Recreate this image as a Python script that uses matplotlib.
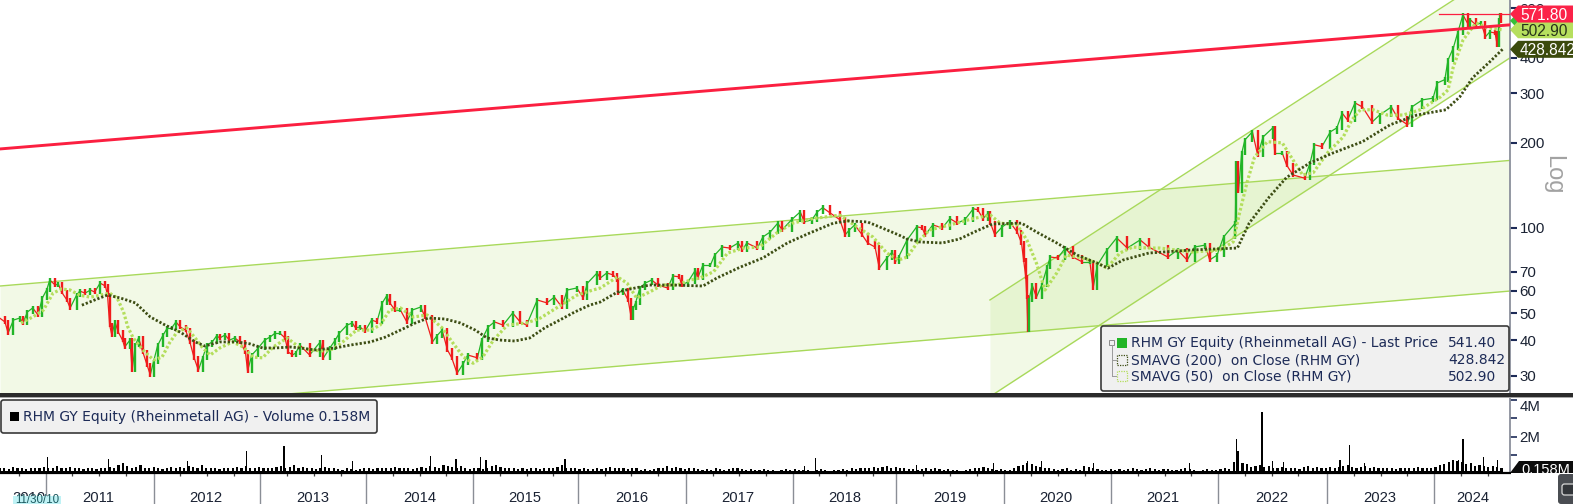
import numpy as np
import matplotlib
matplotlib.use("Agg")
import matplotlib.pyplot as plt
import matplotlib.ticker as mticker
from matplotlib.collections import LineCollection
from matplotlib.patches import Polygon, Rectangle, FancyBboxPatch
from matplotlib.transforms import IdentityTransform

# price knots
price_years = [
    2010.57, 2010.62, 2010.65, 2010.70, 2010.76, 2010.79, 2010.83, 2010.88, 2010.93, 2010.97,
    2011.01, 2011.04, 2011.09, 2011.12, 2011.15, 2011.20, 2011.23, 2011.29, 2011.32, 2011.37,
    2011.42, 2011.46, 2011.51, 2011.56, 2011.58, 2011.60, 2011.62, 2011.65, 2011.68, 2011.72,
    2011.74, 2011.79, 2011.81, 2011.84, 2011.87, 2011.91, 2011.95, 2011.98,
    2012.01, 2012.05, 2012.10, 2012.14, 2012.18, 2012.22, 2012.26, 2012.31, 2012.35, 2012.39,
    2012.43, 2012.47, 2012.51, 2012.56, 2012.60, 2012.63, 2012.68, 2012.72, 2012.77, 2012.82,
    2012.87, 2012.89, 2012.93, 2012.99,
    2013.05, 2013.10, 2013.15, 2013.19, 2013.24, 2013.27, 2013.31, 2013.34, 2013.38, 2013.47,
    2013.57, 2013.60, 2013.66, 2013.71, 2013.75, 2013.82, 2013.87, 2013.90, 2013.94, 2013.99,
    2014.05, 2014.10, 2014.15, 2014.19, 2014.22, 2014.27, 2014.32, 2014.38, 2014.43, 2014.51,
    2014.55, 2014.62, 2014.66, 2014.71, 2014.76, 2014.80, 2014.85, 2014.91, 2014.95,
    2015.04, 2015.08, 2015.14, 2015.20, 2015.28, 2015.37, 2015.44, 2015.50, 2015.60, 2015.69,
    2015.76, 2015.83, 2015.88, 2015.97,
    2016.03, 2016.07, 2016.16, 2016.19, 2016.25, 2016.31, 2016.35, 2016.36, 2016.40, 2016.45,
    2016.48, 2016.50, 2016.52, 2016.56, 2016.61, 2016.67, 2016.73, 2016.82, 2016.87, 2016.93, 2016.95,
    2017.01, 2017.08, 2017.10, 2017.15, 2017.22, 2017.26, 2017.33, 2017.40, 2017.48, 2017.52,
    2017.56, 2017.66, 2017.71, 2017.78, 2017.85, 2017.89, 2017.98,
    2018.06, 2018.10, 2018.17, 2018.22, 2018.27, 2018.34, 2018.43, 2018.48, 2018.52, 2018.57,
    2018.64, 2018.69, 2018.76, 2018.80, 2018.87, 2018.92, 2018.95, 2018.98,
    2019.06, 2019.15, 2019.20, 2019.23, 2019.30, 2019.39, 2019.46, 2019.53, 2019.60, 2019.68,
    2019.72, 2019.77, 2019.82, 2019.84, 2019.88, 2019.95,
    2020.02, 2020.09, 2020.13, 2020.15, 2020.17, 2020.18, 2020.19, 2020.20, 2020.23, 2020.27,
    2020.32, 2020.37, 2020.40, 2020.47, 2020.54, 2020.61, 2020.70, 2020.77, 2020.80, 2020.84, 2020.93,
    2021.02, 2021.12, 2021.24, 2021.32, 2021.50, 2021.59, 2021.68, 2021.75, 2021.85, 2021.89, 2021.96,
    2022.02, 2022.13, 2022.14, 2022.16, 2022.19, 2022.22, 2022.29, 2022.34, 2022.39, 2022.48,
    2022.50, 2022.57, 2022.61, 2022.67, 2022.78, 2022.83, 2022.87, 2022.94,
    2023.02, 2023.08, 2023.13, 2023.18, 2023.25, 2023.32, 2023.41, 2023.48, 2023.59, 2023.65,
    2023.74, 2023.78, 2023.88, 2023.98,
    2024.02, 2024.09, 2024.12, 2024.17, 2024.21, 2024.26, 2024.31, 2024.33, 2024.38, 2024.43,
    2024.47, 2024.51, 2024.56, 2024.58, 2024.60, 2024.61, 2024.62,
]
price_values = [
    48, 46.5, 42.5, 47.2, 48, 46.1, 50.4, 52.1, 49.2, 56.5,
    60.3, 65.4, 62.8, 63.3, 59.3, 55.6, 52.1, 57.8, 59.8, 58.8,
    60.3, 59.3, 63.8, 62.3, 57.8, 45.3, 41.8, 46.5, 42.8, 40.1,
    37.9, 40.1, 31.4, 38.5, 40.8, 36.4, 32.7, 30.2,
    33.6, 38.5, 41.8, 44.3, 44.3, 46.5, 44.6, 43.5, 39.5, 34.7,
    31.4, 34.7, 38.5, 39.5, 41.5, 40.8, 41.8, 40.1, 40.8, 39.5,
    36.4, 31.2, 35.5, 37.6,
    40.1, 41.1, 42.5, 42.5, 40.8, 36.4, 35.5, 36.1, 38.5, 35.5,
    39.5, 34.7, 37.6, 40.1, 42.5, 45.3, 46.1, 44.3, 44.6, 43.2,
    47.2, 46.5, 54.3, 57.4, 54.3, 51.2, 51.2, 46.5, 51.2, 52.5,
    48.4, 39.5, 41.5, 43.5, 37, 34.7, 30.6, 33.2, 35.5,
    34.7, 40.1, 44.6, 46.5, 45.3, 50, 46.5, 45.3, 55.6, 54.3,
    56.9, 52.5, 60.3, 61.3,
    56.5, 63.8, 69.3, 66.5, 69.3, 68.2, 65.4, 58.8, 60.3, 55.6,
    48, 52.1, 54.3, 61.3, 63.8, 65.4, 62.8, 61.3, 67.6, 67.1, 62.8,
    64.4, 71, 66.5, 73.9, 73.9, 80.2, 85.6, 84.9, 88.5, 83.6,
    88.5, 84.9, 92.9, 96.8, 104, 98.4, 107,
    114, 105, 107, 114, 118, 113, 107, 94.5, 98.4, 102.5,
    94.5, 88.5, 85.6, 72.1, 78.3, 82.2, 75.8, 78.9,
    90.7, 101, 100, 94.5, 102.5, 100, 108, 104, 107, 117,
    116, 108, 113, 104, 94.5, 101,
    105, 96.8, 88.5, 77, 67.1, 56.9, 43.5, 55.6, 62.8, 56.9,
    62.8, 72.7, 78.9, 78.3, 84.9, 78.9, 75.8, 75.8, 61.3, 73.9, 83.6,
    92.2, 84.9, 90.7, 85.6, 78.9, 83.6, 77, 85.6, 87, 77, 80.2,
    92.9, 104, 170, 135, 184, 205, 219, 181, 210, 226,
    184, 184, 167, 154, 150, 170, 197, 194,
    219, 226, 255, 241, 277, 268, 237, 251, 268, 245,
    232, 268, 284, 288,
    326, 335, 393, 434, 490, 568, 524, 545, 524, 532,
    475, 494, 490, 445, 545, 565, 541.4,
]

sma200_years = [
    2011.34, 2011.46, 2011.58, 2011.70, 2011.84, 2011.98, 2012.12, 2012.26, 2012.40, 2012.49,
    2012.63, 2012.79, 2012.91, 2013.03, 2013.15, 2013.29, 2013.38, 2013.52, 2013.71, 2013.85,
    2014.04, 2014.18, 2014.32, 2014.46, 2014.58, 2014.74, 2014.88, 2015.02, 2015.13, 2015.25,
    2015.39, 2015.53, 2015.67, 2015.81, 2015.95, 2016.09, 2016.19, 2016.35, 2016.47, 2016.65,
    2016.87, 2017.15, 2017.28, 2017.50, 2017.71, 2017.94, 2018.15, 2018.37, 2018.51, 2018.69,
    2018.87, 2018.98, 2019.06, 2019.18, 2019.39, 2019.55, 2019.71, 2019.86, 2020.13, 2020.27,
    2020.46, 2020.65, 2020.84, 2020.94, 2021.08, 2021.32, 2021.73, 2022.15, 2022.26, 2022.45,
    2022.61, 2022.83, 2023.04, 2023.32, 2023.58, 2023.83, 2024.10, 2024.23, 2024.35, 2024.51, 2024.63,
]
sma200_values = [
    53.3, 55.6, 57.9, 56.5, 54.3, 48.4, 45.3, 42.8, 39.5, 38.2,
    39.5, 39.5, 38.9, 37.6, 37.6, 37.9, 37.6, 37, 37.6, 38.5,
    39.5, 41.1, 43.5, 46.1, 48, 47.6, 46.1, 43.5, 40.8, 40.1,
    39.8, 40.8, 44.3, 47.2, 50.4, 53.3, 54.7, 59.3, 60.8, 62.8,
    62.8, 62.3, 66.5, 72.7, 78.3, 88.5, 96, 104, 105.9, 105,
    98.4, 94.5, 91.4, 89.2, 88.5, 91.4, 97.6, 103.3, 104, 96.8,
    88.5, 80.2, 75, 72.1, 77, 81.5, 83.6, 84.9, 104, 129,
    151, 170, 184, 202, 232, 251, 262, 291, 340, 387, 428.842,
]

sma50_years = [
    2010.77, 2010.88, 2010.98, 2011.07, 2011.15, 2011.23, 2011.32, 2011.42, 2011.51, 2011.60,
    2011.67, 2011.73, 2011.77, 2011.82, 2011.91, 2012.01, 2012.09, 2012.16, 2012.23, 2012.32,
    2012.40, 2012.47, 2012.54, 2012.63, 2012.75, 2012.85, 2012.94, 2013.03, 2013.13, 2013.26,
    2013.37, 2013.47, 2013.60, 2013.69, 2013.78, 2013.91, 2014.04, 2014.13, 2014.22, 2014.32,
    2014.44, 2014.57, 2014.71, 2014.81, 2014.91, 2015.00, 2015.09, 2015.19, 2015.32, 2015.50,
    2015.63, 2015.78, 2015.97, 2016.12, 2016.19, 2016.35, 2016.44, 2016.53, 2016.65, 2016.77,
    2016.91, 2017.03, 2017.12, 2017.25, 2017.38, 2017.53, 2017.68, 2017.84, 2017.99, 2018.18,
    2018.43, 2018.59, 2018.74, 2018.87, 2018.98, 2019.06, 2019.16, 2019.27, 2019.46, 2019.68,
    2019.84, 2019.93, 2020.09, 2020.18, 2020.27, 2020.35, 2020.46, 2020.55, 2020.70, 2020.84,
    2020.93, 2021.05, 2021.17, 2021.32, 2021.42, 2021.73, 2021.99, 2022.11, 2022.17, 2022.24,
    2022.31, 2022.43, 2022.57, 2022.67, 2022.76, 2022.86, 2022.99, 2023.14, 2023.22, 2023.30,
    2023.42, 2023.55, 2023.70, 2023.86, 2024.05, 2024.12, 2024.17, 2024.26, 2024.38, 2024.49, 2024.63,
]
sma50_values = [
    46.1, 48.4, 51.2, 58.8, 60.8, 60.3, 57.8, 56.9, 57.8, 58.8,
    56.5, 50.4, 44.6, 40.8, 37, 34.1, 34.9, 39.2, 42.8, 44.3,
    40.8, 37.6, 35.5, 37.6, 39.5, 37.9, 34.9, 34.7, 37.9, 40.8,
    37.9, 37, 36.7, 37.3, 39.5, 43.5, 43.5, 45.3, 51.2, 52.1,
    48.4, 49.2, 44.3, 39.2, 34.9, 33.2, 34.9, 40.1, 45.3, 46.1,
    48, 52.1, 57.8, 60.3, 61.3, 67.1, 63.8, 56.5, 59.3, 62.8,
    62.8, 65.4, 66.5, 70, 81.5, 84.9, 85.6, 96, 104, 108,
    111, 101, 92.9, 81.5, 77, 78.9, 89.2, 98.4, 102.5, 108,
    111, 104, 102.5, 90.7, 75, 60.3, 69.3, 80.2, 78.3, 75,
    72.1, 81.5, 85.6, 84.9, 84.9, 82.2, 83.6, 89.2, 113, 145,
    178, 202, 200, 174, 154, 157, 184, 210, 241, 262,
    262, 251, 251, 262, 291, 308, 372, 462, 532, 511, 502.9,
]

# everyday volume in millions, half-monthly
volume_base = [
    0.25, 0.3, 0.2, 0.35, 0.25, 0.3, 0.2, 0.3, 0.25, 0.3,
    0.35, 0.3, 0.25, 0.4, 0.3, 0.25, 0.35, 0.3, 0.25, 0.2, 0.3, 0.25, 0.2, 0.3, 0.3, 0.35, 0.25, 0.45, 0.55, 0.4, 0.3, 0.35, 0.45, 0.3, 0.25, 0.35,
    0.3, 0.2, 0.25, 0.35, 0.3, 0.35, 0.25, 0.4, 0.35, 0.3, 0.45, 0.3, 0.25, 0.3, 0.2, 0.25, 0.3, 0.25, 0.35, 0.3, 0.4, 0.3, 0.25, 0.35, 0.3, 0.25, 0.3, 0.35,
    0.4, 0.3, 0.35, 0.45, 0.3, 0.35, 0.25, 0.3, 0.2, 0.3, 0.35, 0.25, 0.3, 0.2, 0.15, 0.25, 0.2, 0.15, 0.2, 0.3, 0.25, 0.2, 0.3, 0.25,
    0.3, 0.25, 0.35, 0.3, 0.25, 0.3, 0.2, 0.3, 0.35, 0.3, 0.4, 0.35, 0.3, 0.45, 0.4, 0.35, 0.3, 0.4, 0.25, 0.2, 0.25, 0.3, 0.2, 0.25,
    0.4, 0.45, 0.35, 0.3, 0.25, 0.3, 0.2, 0.25, 0.2, 0.25, 0.3, 0.2, 0.25, 0.3, 0.25, 0.35, 0.45, 0.3, 0.25, 0.3, 0.2, 0.25, 0.2, 0.2,
    0.25, 0.2, 0.3, 0.35, 0.3, 0.25, 0.3, 0.2, 0.25, 0.3, 0.15, 0.2, 0.15, 0.2, 0.25, 0.3, 0.4, 0.3, 0.35, 0.25, 0.2, 0.3, 0.25, 0.2,
    0.15, 0.2, 0.15, 0.25, 0.2, 0.15, 0.2, 0.25, 0.3, 0.2, 0.15, 0.2, 0.15, 0.15, 0.2, 0.15, 0.15, 0.1, 0.15, 0.2, 0.15, 0.2, 0.15, 0.15,
    0.15, 0.1, 0.15, 0.2, 0.15, 0.1, 0.15, 0.15, 0.2, 0.15, 0.25, 0.2, 0.3, 0.25, 0.3, 0.35, 0.3, 0.35, 0.4, 0.3, 0.35, 0.25, 0.3, 0.2,
    0.2, 0.15, 0.2, 0.25, 0.2, 0.25, 0.2, 0.15, 0.2, 0.15, 0.15, 0.1, 0.15, 0.2, 0.25, 0.3, 0.35, 0.3, 0.2, 0.15, 0.2, 0.15, 0.15, 0.25,
    0.4, 0.45, 0.55, 0.5, 0.4, 0.35, 0.3, 0.25, 0.2, 0.15, 0.2, 0.25, 0.15, 0.2, 0.15, 0.4, 0.35, 0.25, 0.2, 0.15, 0.15, 0.2, 0.15, 0.2,
    0.15, 0.2, 0.25, 0.2, 0.15, 0.2, 0.25, 0.2, 0.15, 0.2, 0.2, 0.15, 0.15, 0.2, 0.25, 0.2, 0.15, 0.1, 0.15, 0.2, 0.15, 0.15, 0.2, 0.25,
    0.2, 0.6, 0.65, 0.55, 0.5, 0.35, 0.4, 0.45, 0.35, 0.4, 0.3, 0.25, 0.35, 0.3, 0.25, 0.3, 0.2, 0.35, 0.4, 0.3, 0.35, 0.25, 0.3, 0.35,
    0.3, 0.35, 0.4, 0.45, 0.35, 0.3, 0.35, 0.4, 0.3, 0.35, 0.3, 0.25, 0.3, 0.25, 0.2, 0.25, 0.3, 0.25, 0.3, 0.35, 0.3, 0.25, 0.3, 0.35,
    0.45, 0.5, 0.6, 0.7, 0.65, 0.6, 0.5, 0.55, 0.4, 0.45, 0.4, 0.35, 0.4, 0.35, 0.3,
]
volume_base_start = 2010.574
volume_base_end = 2024.62
volume_floor = 0.13

spike_years = [
    2011.02, 2011.59, 2012.33, 2012.88, 2013.23, 2013.58, 2013.87, 2014.60, 2014.84, 2015.07, 2015.12,
    2015.86, 2018.20, 2018.10, 2019.15, 2019.87, 2020.19, 2020.32, 2020.80, 2021.70, 2022.14, 2022.155,
    2022.38, 2022.48, 2022.58, 2023.11, 2023.20, 2023.34, 2024.22, 2024.26, 2024.45, 2024.58,
]
spike_volumes = [
    0.86, 0.78, 0.68, 1.2, 1.5, 1.0, 0.68, 0.95, 0.77, 0.9, 0.73,
    0.77, 0.82, 0.4, 0.45, 0.55, 0.64, 0.64, 0.55, 0.55, 1.87, 1.2,
    3.35, 0.64, 0.59, 0.73, 1.56, 0.55, 0.73, 1.87, 0.9, 0.73,
]

# trend channels, two ends each
wide_years = [2010.574, 2024.70]
wide_upper = [62.3, 173.4]
wide_lower = [21.2, 59.8]
steep_years = [2019.835, 2024.70]
steep_upper = [55.6, 863.6]
steep_lower = [25.3, 400]
red_trend_years = [2010.574, 2024.70]
red_trend = [190.4, 523.5]
high_line_years = [2024.04, 2024.70]
high_line = [571.8, 571.8]

price_ticks = [30, 40, 50, 60, 70, 100, 200, 300, 400, 500, 600]
year_edges = [2011.0, 2012.01, 2013.01, 2014.0, 2015.0, 2015.98, 2016.99, 2017.99, 2018.96, 2019.97, 2020.97, 2021.97, 2022.99, 2023.99]
year_labels = ["2010", "2011", "2012", "2013", "2014", "2015", "2016", "2017", "2018", "2019", "2020", "2021", "2022", "2023", "2024"]
year_label_pos = [2010.84, 2011.49, 2012.50, 2013.50, 2014.50, 2015.48, 2016.48, 2017.48, 2018.48, 2019.46, 2020.45, 2021.45, 2022.47, 2023.48, 2024.35]

W, H = 1573, 504
GREEN = "#22b527"
RED = "#f01c1c"
LIME = "#a8d95a"
LIGHT_SMA = "#b4de5c"
DARK_SMA = "#3d4d14"
INK = "#1d2b57"
TICK_INK = "#1a2233"
XMIN, XMAX = 2010.574, 2024.70
WICK = 0.018

fig = plt.figure(figsize=(W / 100, H / 100), dpi=100, facecolor="white")
plt.rcParams["font.family"] = ["Liberation Sans", "DejaVu Sans"]


def box(x0, y0, x1, y1):
    return [x0 / W, 1 - y1 / H, (x1 - x0) / W, (y1 - y0) / H]


def chrome(artist, z=2):
    artist.set_transform(IdentityTransform())
    artist.set_zorder(z)
    fig.add_artist(artist)
    return artist


def ptext(x, y, s, z=10, **kw):
    return fig.text(x / W, 1 - y / H, s, zorder=z, **kw)


ax = fig.add_axes(box(0, 0, 1510, 393))
ax.set_yscale("log")
ax.set_xlim(XMIN, XMAX)
ax.set_ylim(26.05, 641)

ax.fill_between(wide_years, wide_lower, wide_upper, color=LIME, alpha=0.15, lw=0, zorder=1)
ax.fill_between(steep_years, steep_lower, steep_upper, color=LIME, alpha=0.15, lw=0, zorder=1)
for xs, ys in [(wide_years, wide_upper), (wide_years, wide_lower), (steep_years, steep_upper), (steep_years, steep_lower)]:
    ax.plot(xs, ys, color=LIME, lw=1.0, zorder=2)

# up moves green, down moves red, thin joins with a candle body at each knot
joins = []
bars = []
cols = []
for i in range(1, len(price_years)):
    a, b = price_values[i - 1], price_values[i]
    joins.append([(price_years[i - 1], a), (price_years[i], b)])
    lo, hi = min(a, b) * (1 - WICK), max(a, b) * (1 + WICK)
    bars.append([(price_years[i], lo), (price_years[i], hi)])
    cols.append(GREEN if b >= a else RED)
ax.add_collection(LineCollection(joins, colors=cols, linewidths=0.9, zorder=3))
ax.add_collection(LineCollection(bars, colors=cols, linewidths=1.7, zorder=3, capstyle="butt"))

ax.plot(sma50_years, sma50_values, color=LIGHT_SMA, lw=2.3, ls=(0, (0.8, 0.7)), zorder=4)
ax.plot(sma200_years, sma200_values, color=DARK_SMA, lw=2.0, ls=(0, (0.8, 0.7)), zorder=5)
ax.plot(red_trend_years, red_trend, color="#fb1f40", lw=2.1, zorder=6)
ax.plot(high_line_years, high_line, color="#fb1f40", lw=0.9, zorder=6)

for s in ["top", "left", "bottom"]:
    ax.spines[s].set_visible(False)
ax.spines["right"].set_color("#8b909c")
ax.spines["right"].set_linewidth(1.3)
ax.yaxis.tick_right()
ax.set_yticks(price_ticks)
ax.set_yticklabels([str(t) for t in price_ticks], fontsize=10.8, color=TICK_INK)
ax.yaxis.set_minor_locator(mticker.NullLocator())
ax.yaxis.set_minor_formatter(mticker.NullFormatter())
ax.tick_params(axis="y", direction="out", length=5, width=1.5, color=INK, pad=2)
ax.set_xticks([])

vol = fig.add_axes(box(0, 397, 1510, 473))
vol.set_xlim(XMIN, XMAX)
vol.set_ylim(0, 4.18)
base_x = np.linspace(volume_base_start, volume_base_end, len(volume_base))
vol.fill_between([volume_base_start, volume_base_end], 0, volume_floor, color="black", lw=0)
vol.bar(base_x, volume_base, width=(base_x[1] - base_x[0]) * 0.5, color="black", lw=0)
vol.bar(spike_years, spike_volumes, width=0.011, color="black", lw=0)
for s in ["top", "left"]:
    vol.spines[s].set_visible(False)
vol.spines["right"].set_color("#8b909c")
vol.spines["right"].set_linewidth(1.3)
vol.spines["bottom"].set_color("black")
vol.spines["bottom"].set_linewidth(1.6)
vol.yaxis.tick_right()
vol.set_yticks([2, 4])
vol.set_yticklabels(["2M", "4M"], fontsize=10.8, color=TICK_INK)
vol.get_yticklabels()[1].set_va("top")
vol.set_yticks([1, 3], minor=True)
vol.tick_params(axis="y", which="both", direction="out", length=5, width=1.2, color=INK, pad=2)

# year separators and quarter ticks under the volume panel
vol.set_xticks(year_edges)
vol.set_xticklabels([])
vol.tick_params(axis="x", which="major", direction="out", length=22.5, width=1, color="#8a8e96")
quarters = [e + q for e in year_edges for q in (0.25, 0.5, 0.75) if e + q < XMAX]
quarters += [2010.75]
vol.set_xticks(quarters, minor=True)
vol.tick_params(axis="x", which="minor", direction="out", length=2.5, width=0.9, color="#444444")
trans = vol.get_xaxis_transform()
for lab, pos in zip(year_labels, year_label_pos):
    vol.text(pos, -0.33, lab, transform=trans, ha="center", va="center", fontsize=10.6,
             color=TICK_INK, clip_on=False)

# the dark rule between the panels
chrome(Rectangle((0, H - 396.5), 1573, 3.5, facecolor="#2b2b2b", lw=0))
chrome(Rectangle((0, H - 397.5), 1573, 1, facecolor="#a8a8a8", lw=0))

tag_z = [3]


def tag(axis, value, color, text, text_color, height=17):
    y = axis.transData.transform((XMIN, value))[1]
    pts = [(1510, y), (1518, y + height / 2), (1573, y + height / 2), (1573, y - height / 2), (1518, y - height / 2)]
    chrome(Polygon(pts, closed=True, facecolor=color, edgecolor="none"), z=tag_z[0])
    fig.text(1520 / W, y / H, text, color=text_color, fontsize=11.2, va="center_baseline", ha="left",
             zorder=tag_z[0] + 0.5)
    tag_z[0] += 1


tag(ax, 541.40, "#35bf38", "541.40", "#123b12")
tag(ax, 502.90, "#b6df5e", "502.90", "#27331a")
tag(ax, 428.842, "#3b4a0c", "428.842", "white")
tag(ax, 571.80, "#fb2248", "571.80", "white")

ptext(1553, 175, "Log", rotation=-90, fontsize=17, color="#a2a2a2", ha="center", va="center")

# price legend
chrome(FancyBboxPatch((1101, H - 391), 408, 65, boxstyle="round,pad=0,rounding_size=2.5",
                      facecolor="#f0f0f0", edgecolor="#3a3a3a", lw=1.2), z=8)
leg_font = dict(family=["DejaVu Sans"], fontsize=10.0, color=INK, va="center", ha="left")
ptext(1131, 343, "RHM GY Equity (Rheinmetall AG) - Last Price", **leg_font)
ptext(1448, 343, "541.40", **leg_font)
ptext(1131, 360, "SMAVG (200)  on Close (RHM GY)", **leg_font)
ptext(1448, 360, "428.842", **leg_font)
ptext(1131, 377, "SMAVG (50)  on Close (RHM GY)", **leg_font)
ptext(1448, 377, "502.90", **leg_font)
chrome(Rectangle((1117, H - 348), 10, 10, facecolor=GREEN, lw=0), z=9)
chrome(Rectangle((1109, H - 345), 5, 5, facecolor="#f0f0f0", edgecolor="#8a8a8a", lw=0.7), z=9)
chrome(Rectangle((1117, H - 365), 10, 10, facecolor="none", edgecolor=DARK_SMA, lw=0.9, ls=(0, (1, 1))), z=9)
chrome(Rectangle((1117, H - 381), 10, 10, facecolor="none", edgecolor=LIGHT_SMA, lw=0.9, ls=(0, (1, 1))), z=9)
chrome(plt.Line2D([1111.5, 1111.5], [H - 345, H - 376], color="#9a9a9a", lw=0.7), z=9)
chrome(plt.Line2D([1111.5, 1116], [H - 360, H - 360], color="#9a9a9a", lw=0.7), z=9)
chrome(plt.Line2D([1111.5, 1116], [H - 376, H - 376], color="#9a9a9a", lw=0.7), z=9)

# volume legend
chrome(FancyBboxPatch((1, H - 433), 376, 33, boxstyle="round,pad=0,rounding_size=2.5",
                      facecolor="#f0f0f0", edgecolor="#3a3a3a", lw=1.2), z=8)
chrome(Rectangle((10, H - 421), 9, 9, facecolor="black", lw=0), z=9)
ptext(23, 417, "RHM GY Equity (Rheinmetall AG) - Volume 0.158M", **leg_font)

# last volume tag, cut off by the bottom axis
chrome(Polygon([(1510, H - 473), (1519, H - 461), (1573, H - 461), (1573, H - 473)], closed=True,
               facecolor="#0c0c0c", edgecolor="none"), z=8)
ptext(1521, 470, "0.158M", z=9, color="white", fontsize=10.5, va="center")
chrome(Rectangle((1511, 0), 62, H - 473, facecolor="white", lw=0), z=9.5)

# date cursor badge over the first year label
chrome(Rectangle((13, 0), 48, 8, facecolor="#bff2f5", lw=0), z=9)
ptext(37, 500, "11/30/10", fontsize=8.3, color="#1d5a60", ha="center", va="center")

# scroll button in the corner
chrome(FancyBboxPatch((1558, 0), 20, 30, boxstyle="round,pad=0,rounding_size=3", facecolor="#4a4d52",
                      edgecolor="none"), z=10)
chrome(FancyBboxPatch((1562, 9), 14, 11, boxstyle="round,pad=0,rounding_size=2.5", facecolor="#33363a",
                      edgecolor="#d8d8d8", lw=0.9), z=11)

fig.savefig("out.png", dpi=100)
